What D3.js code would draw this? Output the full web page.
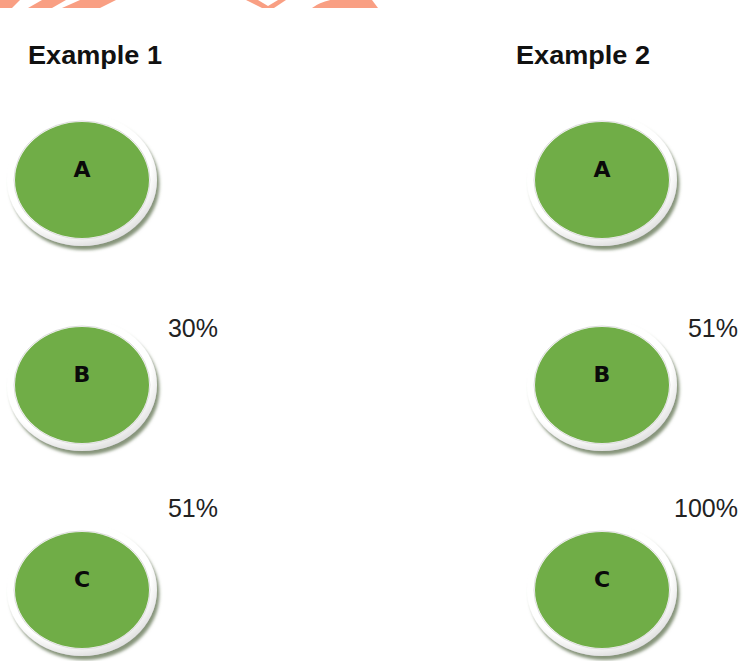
<!DOCTYPE html>
<html>
<head>
<meta charset="utf-8">
<script src="https://cdn.jsdelivr.net/npm/d3@7"></script>
<style>
  html, body { margin: 0; padding: 0; background: #fff; }
  svg { display: block; }
</style>
</head>
<body>
<svg id="chart" width="744" height="661"></svg>
<script>
// ---- data ----
const examples = ["Example 1", "Example 2"];
const categories = ["A", "B", "C"];
const example1Pct = [null, 30, 51];
const example2Pct = [null, 51, 100];
const seriesValues = [example1Pct, example2Pct];

// ---- layout ----
const W = 744, H = 661;
const svg = d3.select("#chart");

const colX = d3.scalePoint().domain(examples).range([82, 602]);
const titleX = d3.scalePoint().domain(examples).range([28, 516]);
const rowY = d3.scalePoint().domain(categories).range([180, 590]);
const pctY = d3.scalePoint().domain(categories.slice(1)).range([337, 517]);
const rx = 67, ry = 58;

const defs = svg.append("defs");
const f = defs.append("filter").attr("id", "shadow")
  .attr("x", "-20%").attr("y", "-20%").attr("width", "150%").attr("height", "150%");
f.append("feDropShadow").attr("dx", 2.5).attr("dy", 4).attr("stdDeviation", 1.8)
  .attr("flood-color", "#5f7250").attr("flood-opacity", 0.75);

const ringGrad = defs.append("radialGradient").attr("id", "ring")
  .attr("cx", "45%").attr("cy", "40%").attr("r", "60%");
ringGrad.append("stop").attr("offset", "85%").attr("stop-color", "#ffffff");
ringGrad.append("stop").attr("offset", "100%").attr("stop-color", "#e2e2e2");

// ---- watermark fragments at top ----
const wm = svg.append("g").attr("fill", "#f99a7d").attr("opacity", 0.95);
wm.append("path").attr("d", "M0,0 L20,0 L12,8 L0,8 Z");
wm.append("path").attr("d", "M42,0 L66,0 L52,8 L28,8 Z");
wm.append("path").attr("d", "M80,0 L116,0 L100,8 L62,8 Z");
wm.append("path").attr("d", "M246,0 L258,0 L268,6 L278,0 L286,0 L274,8 L262,8 Z");
wm.append("path").attr("d", "M312,8 Q330,-6 372,0 L378,8 Z");

// ---- titles ----
svg.selectAll("text.title").data(examples).join("text")
  .attr("class", "title")
  .attr("x", d => titleX(d)).attr("y", 64)
  .attr("font-family", "Liberation Sans, Arial, sans-serif")
  .attr("font-weight", "bold").attr("font-size", 26)
  .attr("textLength", 134).attr("lengthAdjust", "spacingAndGlyphs")
  .attr("fill", "#111")
  .text(d => d);

// ---- nodes ----
const nodes = [];
examples.forEach((ex, i) => {
  categories.forEach((c, j) => {
    nodes.push({ ex, cat: c, pct: seriesValues[i][j] });
  });
});

const g = svg.selectAll("g.node").data(nodes).join("g")
  .attr("class", "node")
  .attr("transform", d => `translate(${colX(d.ex)},${rowY(d.cat)})`);

g.append("ellipse").attr("rx", rx + 8).attr("ry", ry + 8)
  .attr("fill", "url(#ring)").attr("filter", "url(#shadow)");
g.append("ellipse").attr("rx", rx + 1).attr("ry", ry + 1)
  .attr("fill", "none").attr("stroke", "#dcdcdc").attr("stroke-width", 1);
g.append("ellipse").attr("rx", rx).attr("ry", ry).attr("fill", "#70ad47");

g.append("text")
  .attr("y", -3)
  .attr("text-anchor", "middle")
  .attr("font-family", "DejaVu Sans, Verdana, sans-serif")
  .attr("font-weight", "bold").attr("font-size", 22)
  .attr("fill", "#0a0a0a")
  .text(d => d.cat);

// ---- percentage labels ----
svg.selectAll("text.pct").data(nodes.filter(d => d.pct != null)).join("text")
  .attr("class", "pct")
  .attr("x", d => colX(d.ex) + 136)
  .attr("y", d => pctY(d.cat))
  .attr("text-anchor", "end")
  .attr("font-family", "Liberation Sans, Arial, sans-serif")
  .attr("font-size", 25)
  .attr("fill", "#222")
  .text(d => d.pct + "%");
</script>
</body>
</html>
